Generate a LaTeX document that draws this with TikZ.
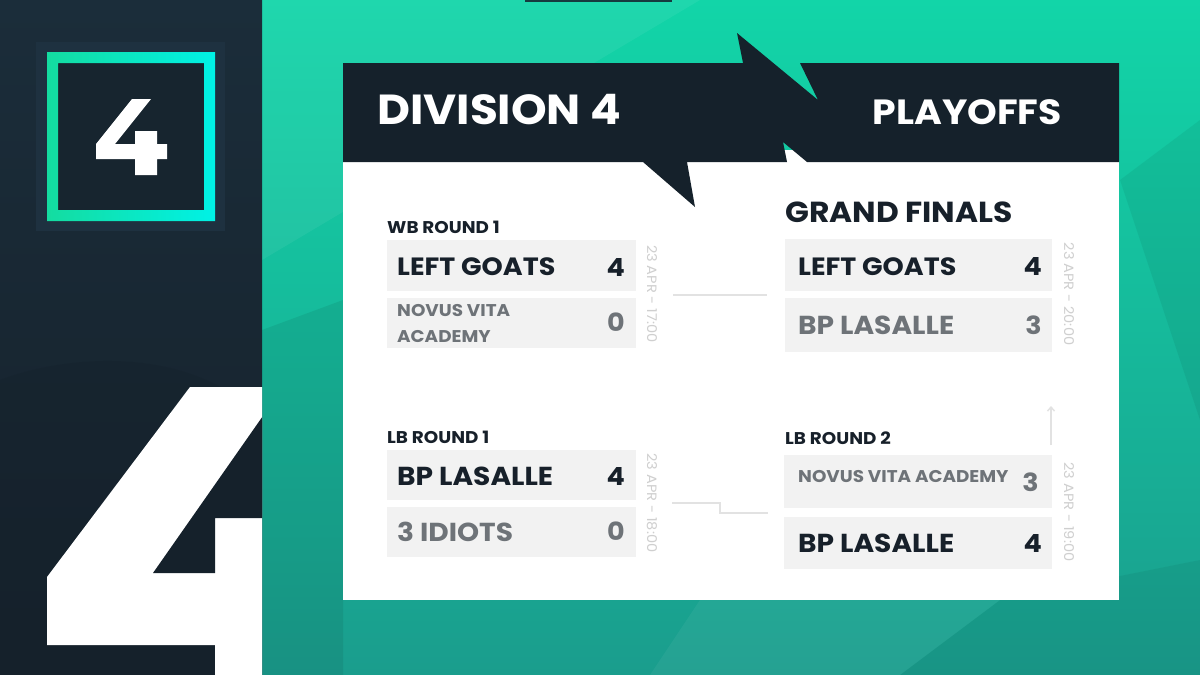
\documentclass[tikz,border=0pt]{standalone}
\usepackage{fontspec}
\setmainfont{Poppins}[FakeStretch=1.08]
\usetikzlibrary{arrows.meta}
\definecolor{navy}{HTML}{15212B}
\definecolor{navylight}{HTML}{1B2D3A}
\definecolor{emblemback}{HTML}{1E3140}
\definecolor{tealtop}{HTML}{12D5A8}
\definecolor{tealbot}{HTML}{1A9D8D}
\definecolor{cyanb}{HTML}{00F2E6}
\definecolor{greenb}{HTML}{14DCA0}
\definecolor{boxgray}{HTML}{F2F2F2}
\definecolor{darktext}{HTML}{17202A}
\definecolor{graytext}{HTML}{6E7378}
\definecolor{datecol}{HTML}{CFCFCF}
\definecolor{linecol}{HTML}{E2E2E2}
\tikzset{
  matchbox/.style={fill=boxgray, draw=none, inner sep=0pt, anchor=north west, minimum height=#1},
  matchbox/.default=51pt,
  roundlbl/.style={inner sep=0pt, anchor=west, text=darktext, font=\fontsize{17}{19}\selectfont\bfseries},
  teamwin/.style={inner sep=0pt, anchor=west, text=darktext, font=\fontsize{25}{28}\selectfont\bfseries},
  teamlose/.style={inner sep=0pt, anchor=west, text=graytext, font=\fontsize{25}{28}\selectfont\bfseries},
  teamsmall/.style={inner sep=0pt, anchor=west, text=graytext, align=left, font=\fontsize{17}{26}\selectfont\bfseries},
  scorewin/.style={inner sep=0pt, anchor=east, text=darktext, font=\fontsize{25}{28}\selectfont\bfseries},
  scorelose/.style={inner sep=0pt, anchor=east, text=graytext, font=\fontsize{25}{28}\selectfont\bfseries},
  datelbl/.style={inner sep=0pt, rotate=-90, text=datecol, font=\fontsize{13.5}{15}\selectfont},
  connector/.style={draw=linecol, line width=1.6pt},
}
\begin{document}
\begin{tikzpicture}[x=1pt,y=-1pt]
\useasboundingbox (0,0) rectangle (1200,675);
% teal background
\shade[top color=tealtop, bottom color=tealbot] (262,0) rectangle (1200,675);
\fill[white, opacity=0.06] (262,0) -- (700,0) -- (262,260) -- cycle;
\fill[black, opacity=0.06] (1120,180) -- (1200,120) -- (1200,420) -- cycle;
\fill[black, opacity=0.07] (262,330) -- (343,300) -- (343,675) -- (262,675) -- cycle;
\fill[white, opacity=0.05] (700,600) -- (1000,600) -- (900,675) -- (650,675) -- cycle;
\fill[black, opacity=0.05] (1000,600) -- (1200,560) -- (1200,675) -- (900,675) -- cycle;
\fill[navy!80!tealbot] (525,0) rectangle (672,1.5);
% left dark panel
\shade[top color=navylight, bottom color=navy] (0,0) rectangle (262,675);
\fill[navy, opacity=0.4] (0,380) .. controls (80,350) and (200,350) .. (262,420) -- (262,675) -- (0,675) -- cycle;
% small emblem
\fill[emblemback] (36,42) rectangle (225,231);
\fill[navy!70!navylight] (47,52) rectangle (215,221);
\shade[left color=greenb, right color=cyanb, even odd rule] (47,52) rectangle (215,221) (58,63) rectangle (204,210);
\fill[white] (132,99) -- (151,99) -- (115,144) -- (135,144) -- (135,131) -- (157,131) -- (157,144) -- (167,144) -- (167,159) -- (157,159) -- (157,175) -- (135,175) -- (135,159) -- (96,159) -- (96,144) -- cycle;
% big 4
\begin{scope}
\clip (0,0) rectangle (262,675);
\fill[white] (190,387) -- (300,387) -- (300,675) -- (215,675) -- (215,645) -- (47,645) -- (47,577) -- cycle;
\fill[navy] (300,363) -- (153,573) -- (215,573) -- (215,518) -- (300,518) -- cycle;
\end{scope}
% card
\fill[white] (343,150) rectangle (1119,600);
\fill[navy] (343,63) -- (743,63) -- (737,33) -- (818,100) -- (800,63) -- (1119,63) -- (1119,162) -- (807,162) -- (783,142) -- (787,162) -- (687,162) -- (695,207) -- (643,162) -- (343,162) -- cycle;
\node[inner sep=0pt, anchor=west, text=white, font=\fontsize{42}{46}\selectfont\bfseries] (div) at (377,110) {DIVISION 4};
\node[inner sep=0pt, anchor=east, text=white, font=\fontsize{35}{40}\selectfont\bfseries] (play) at (1062,112) {PLAYOFFS};
% WB round 1
\node[roundlbl] (wbl) at (387,227.5) {WB ROUND 1};
\node[matchbox, minimum width=249pt] (wb1a) at (387,240) {};
\node[matchbox=50pt, minimum width=249pt] (wb1b) at (387,298) {};
\node[teamwin] (wb1at) at (397,267) {LEFT GOATS};
\node[scorewin] (wb1as) at (625,267) {4};
\node[teamsmall] (wb1bt) at (397,323) {NOVUS VITA\\ACADEMY};
\node[scorelose] (wb1bs) at (625,322) {0};
\node[datelbl] (wbd) at (652,294) {23 APR - 17:00};
% LB round 1
\node[roundlbl] (lbl1) at (387,437) {LB ROUND 1};
\node[matchbox=50pt, minimum width=249pt] (lb1a) at (387,450) {};
\node[matchbox=50pt, minimum width=249pt] (lb1b) at (387,507) {};
\node[teamwin, font=\fontsize{26}{28}\selectfont\bfseries] (lb1at) at (397,476) {BP LASALLE};
\node[scorewin] (lb1as) at (625,476) {4};
\node[teamlose, font=\fontsize{26}{28}\selectfont\bfseries] (lb1bt) at (397,531.5) {3 IDIOTS};
\node[scorelose] (lb1bs) at (625,531.5) {0};
\node[datelbl] (lbd1) at (652,503) {23 APR - 18:00};
% Grand finals
\node[inner sep=0pt, anchor=west, text=darktext, font=\fontsize{29}{31}\selectfont\bfseries] (gfl) at (785,212.5) {GRAND FINALS};
\node[matchbox=52pt, minimum width=267pt] (gfa) at (785,239) {};
\node[matchbox=54pt, minimum width=267pt] (gfb) at (785,298) {};
\node[teamwin] (gfat) at (798,266.5) {LEFT GOATS};
\node[scorewin] (gfas) at (1042,266.5) {4};
\node[teamlose, font=\fontsize{26}{28}\selectfont\bfseries] (gfbt) at (798,325.5) {BP LASALLE};
\node[scorelose] (gfbs) at (1042,325.5) {3};
\node[datelbl] (gfd) at (1069,294) {23 APR - 20:00};
% LB round 2
\node[roundlbl] (lbl2) at (785,438) {LB ROUND 2};
\node[matchbox=53pt, minimum width=268pt] (lb2a) at (784,455) {};
\node[matchbox=52pt, minimum width=268pt] (lb2b) at (784,517) {};
\node[teamsmall] (lb2at) at (798,477) {NOVUS VITA ACADEMY};
\node[scorelose] (lb2as) at (1039,482) {3};
\node[teamwin, font=\fontsize{26}{28}\selectfont\bfseries] (lb2bt) at (798,543) {BP LASALLE};
\node[scorewin] (lb2bs) at (1042,543) {4};
\node[datelbl] (lbd2) at (1069,512) {23 APR - 19:00};
% connectors
\coordinate (c1s) at (673,295);
\coordinate (c1e) at (767,295);
\draw[connector] (c1s) -- (c1e);
\coordinate (c2s) at (672,503);
\coordinate (c2m) at (720,503);
\coordinate (c2e) at (768,513);
\draw[connector] (c2s) -- (c2m) |- (c2e);
\coordinate (a1s) at (1051,445);
\coordinate (a1e) at (1051,406);
\draw[draw=linecol, line width=1.4pt, -{Straight Barb[length=4pt, width=7pt]}] (a1s) -- (a1e);
\end{tikzpicture}
\end{document}
